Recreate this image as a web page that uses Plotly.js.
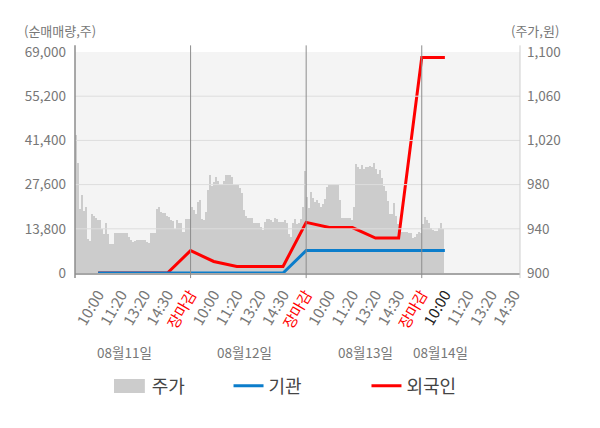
<!DOCTYPE html>
<html>
<head>
<meta charset="utf-8">
<script src="https://cdn.plot.ly/plotly-3.0.1.min.js"></script>
<style>html,body{margin:0;padding:0;background:#fff;}#chart{width:600px;height:428px;}</style>
</head>
<body>
<div id="chart"></div>
<script>
// ---- data ----
const dayLabels = ['08월11일', '08월12일', '08월13일', '08월14일'];
const timeLabels = ['10:00', '11:20', '13:20', '14:30', '장마감'];
const seriesNames = ['주가', '기관', '외국인'];

// stock price (원), intraday samples per day
const priceDay1 = [1025, 1000, 958, 971, 956, 960, 931, 929, 953, 952, 950, 948, 948, 940, 935, 945, 935, 926, 926,
  936, 936, 936, 936, 936, 936, 936, 933, 930, 928, 929, 930, 930, 930, 930, 930, 928, 927, 936, 936, 936,
  958, 960, 955, 954, 954, 952, 951, 948, 947, 940, 948, 945, 945, 937, 949, 949, 949];
const priceDay2 = [960, 957, 953, 964, 966, 949, 948, 955, 975, 989, 979, 982, 987, 983, 980, 980, 983, 989, 989,
  989, 987, 980, 980, 980, 977, 972, 957, 952, 950, 950, 950, 945, 945, 945, 942, 939, 946, 949, 949,
  948, 946, 950, 949, 946, 946, 946, 948, 945, 935, 933, 945, 949, 944, 945, 949, 960, 992];
const priceDay3 = [969, 959, 973, 968, 964, 966, 963, 960, 962, 967, 978, 980, 980, 980, 980, 980, 966, 950, 950,
  950, 950, 950, 948, 960, 999, 996, 994, 998, 994, 996, 996, 997, 996, 1000, 994, 990, 993, 986, 979,
  974, 965, 953, 953, 963, 952, 944, 939, 937, 937, 937, 936, 936, 932, 933, 935, 937, 936];
const priceDay4 = [944, 951, 948, 945, 941, 939, 938, 938, 941, 945, 940];

// cumulative net buying (주), one value per time slot (10:00 of day 1 ... 10:00 of day 4)
const institution = [0, 0, 0, 0, 0, 0, 0, 0, 0, 7000, 7000, 7000, 7000, 7000, 7000, 7000];
const foreigner = [0, 0, 0, 0, 7000, 3600, 2050, 2050, 2050, 15800, 14200, 14200, 10900, 10900, 67300, 67300];

const leftTicks = [0, 13800, 27600, 41400, 55200, 69000];
const rightTicks = [900, 940, 980, 1020, 1060, 1100];

// ---- build ----
const samplesPerDay = 57;
const priceDays = [priceDay1, priceDay2, priceDay3, priceDay4];
const px = [], py = [];
priceDays.forEach((arr, d) => arr.forEach((v, i) => { px.push(d + (i + 0.5) / samplesPerDay); py.push(v); }));

const slotsPerDay = timeLabels.length;
const flowX = foreigner.map((_, i) => (i + 1) / slotsPerDay);

const tickvals = [], ticktext = [];
for (let d = 0; d < 4; d++) {
  timeLabels.forEach((t, k) => {
    const v = d + (k + 1) / slotsPerDay;
    if (v > 3.85) return;
    let txt = t;
    if (t === '장마감') txt = '<span style="color:#ff0000">' + t + '</span>';
    else if (d === 3 && k === 0) txt = '<span style="color:#222222">' + t + '</span>';
    tickvals.push(v); ticktext.push(txt);
  });
}

const FONT = 'Noto Sans CJK KR, Noto Sans, sans-serif';
const traces = [
  { type: 'bar', x: px, y: py, width: 1 / samplesPerDay, yaxis: 'y', name: seriesNames[0],
    marker: { color: '#cccccc', line: { width: 0 } }, legend: 'legend', hoverinfo: 'skip' },
  { type: 'scatter', mode: 'lines', x: flowX, y: foreigner, yaxis: 'y2', name: seriesNames[2],
    line: { color: '#ff0000', width: 3 }, legend: 'legend3' },
  { type: 'scatter', mode: 'lines', x: flowX, y: institution, yaxis: 'y2', name: seriesNames[1],
    line: { color: '#0b7dcb', width: 3 }, legend: 'legend2' }
];

const dayPos = [0.43, 1.47, 2.51, 3.16];
const annotations = dayLabels.map((t, i) => ({
  text: t, x: dayPos[i], xref: 'x', y: -0.357, yref: 'paper', showarrow: false,
  font: { family: FONT, size: 13.5, color: '#777' }, xanchor: 'center', yanchor: 'middle'
}));
annotations.push({ text: '(순매매량,주)', x: -0.118, xref: 'paper', y: 1.098, yref: 'paper', showarrow: false,
  xanchor: 'left', yanchor: 'middle', font: { family: FONT, size: 13, color: '#777' } });
annotations.push({ text: '(주가,원)', x: 0.975, xref: 'paper', y: 1.098, yref: 'paper', showarrow: false,
  xanchor: 'left', yanchor: 'middle', font: { family: FONT, size: 13, color: '#777' } });

const shapes = [];
// horizontal grid lines drawn above the price bars
rightTicks.slice(1, -1).forEach(v => shapes.push({ type: 'line', xref: 'paper', yref: 'y', x0: 0, x1: 1, y0: v, y1: v,
  line: { color: '#dddddd', width: 1 }, layer: 'above' }));
[1, 2, 3].forEach(d => shapes.push({ type: 'line', xref: 'x', yref: 'paper', x0: d, x1: d, y0: -0.023, y1: 1.03,
  line: { color: '#8c8c8c', width: 1 }, layer: 'above' }));
shapes.push({ type: 'line', xref: 'paper', yref: 'paper', x0: 0, x1: 0, y0: -0.023, y1: 1.03,
  line: { color: '#8c8c8c', width: 1.5 }, layer: 'above' });
shapes.push({ type: 'line', xref: 'paper', yref: 'paper', x0: 1, x1: 1, y0: -0.023, y1: 1.03,
  line: { color: '#cfcfcf', width: 1 }, layer: 'above' });
// wide legend swatch for the price series (over the default small square)
shapes.push({ type: 'rect', xref: 'paper', yref: 'paper', x0: 0.0876, x1: 0.157, y0: -0.4796, y1: -0.543,
  fillcolor: '#cccccc', line: { width: 0 }, layer: 'above' });

const legendBase = { orientation: 'h', xanchor: 'left', yanchor: 'middle', y: -0.511,
  font: { family: FONT, size: 18, color: '#444' }, bgcolor: 'rgba(0,0,0,0)' };

const layout = {
  width: 600, height: 428,
  margin: { l: 75, r: 80, t: 52, b: 155 },
  paper_bgcolor: '#ffffff', plot_bgcolor: '#f4f4f4',
  font: { family: FONT, size: 13.5, color: '#777' },
  bargap: 0,
  xaxis: { range: [0, 3.85], tickvals: tickvals, ticktext: ticktext, tickangle: -60,
    tickfont: { family: FONT, size: 15, color: '#777' }, showgrid: false, zeroline: false,
    showline: true, linecolor: '#a6a6a6', linewidth: 2, ticks: '', ticklabelstandoff: 5, fixedrange: true },
  yaxis: { range: [900, 1100], tickvals: rightTicks, tickformat: ',', side: 'right',
    showgrid: false, zeroline: false, showline: false, ticks: '', ticklabelstandoff: 6,
    tickfont: { family: FONT, size: 13.5, color: '#777' } },
  yaxis2: { range: [0, 69000], tickvals: leftTicks, tickformat: ',', overlaying: 'y', side: 'left',
    showgrid: false, zeroline: false, showline: false, ticks: '', ticklabelstandoff: 8,
    tickfont: { family: FONT, size: 13.5, color: '#777' } },
  showlegend: true,
  legend: Object.assign({}, legendBase, { x: 0.0825 }),
  legend2: Object.assign({}, legendBase, { x: 0.345 }),
  legend3: Object.assign({}, legendBase, { x: 0.655 }),
  annotations: annotations,
  shapes: shapes
};

Plotly.newPlot('chart', traces, layout, { displayModeBar: false, staticPlot: true });
</script>
</body>
</html>
